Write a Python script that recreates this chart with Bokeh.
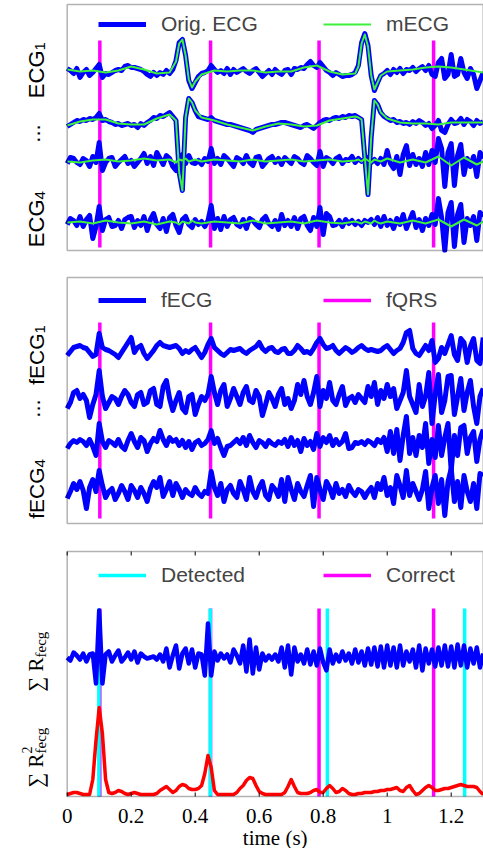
import numpy as np
from bokeh.plotting import figure
from bokeh.models import Range1d, Legend, LegendItem, Label, BoxAnnotation
from bokeh.core.properties import value
from bokeh.layouts import column
from bokeh.embed import file_html
from bokeh.resources import INLINE

# ---------------------------------------------------------------- data
# sample times (s), 10 ms step
t = np.round(np.arange(131) * 0.01, 2)

# panel 1: original abdominal ECG leads (blue), amplitudes in arbitrary units
ecg1 = [2, 0, -3, 2, -7, -2, 1, -5, -2, 2,
        6, -7, -3, -4, -2, 0, 1, 0, 4, 5,
        3, 3, 2, 1, -1, -4, -6, -2, -5, -2,
        -4, 0, -3, 1, 10, 28, 31, 15, -10, -18,
        -12, -6, -3, -2, 0, 5, 1, -2, 0, -3,
        2, -4, 1, -2, 0, 2, -1, -3, 0, 2,
        -2, -6, -3, 0, -4, 1, -2, -4, 0, 1,
        -4, 2, 1, 3, 2, 6, 9, 5, 3, 8,
        4, 0, -2, -5, -2, -4, -6, -5, -5, -4,
        -2, 5, 28, 37, 25, -5, -20, -12, -5, -3,
        0, -4, 1, -2, 2, -3, 1, 0, 3, -1,
        2, 4, 0, 5, -4, -6, 8, 12, -8, -4,
        16, -6, -4, 12, -2, -8, 2, -4, -18, -10,
        -2]
ecg2 = [-4, -2, 0, 2, 1, 3, 2, 4, 3, 5,
        9, 2, 3, 1, 0, -2, -1, -3, -2, -1,
        -3, -2, -5, -1, -3, 0, 2, 5, 4, 7,
        6, 8, 10, 6, 2, -50, -68, 5, 24, 20,
        12, 6, 5, 4, 3, 5, 2, 1, 0, -1,
        -2, -2, -3, -4, -5, -6, -7, -8, -10, -7,
        -6, -5, -4, -3, -2, -2, -1, 0, 0, -1,
        -2, -3, -4, -5, -3, -2, -4, -6, -3, 0,
        2, 3, 2, 4, 5, 4, 6, 5, 7, 6,
        7, 5, 3, -35, -72, -15, 22, 18, 10, 6,
        4, 2, 3, 0, 1, -1, 0, -2, 1, -1,
        2, 0, -3, -1, -6, -3, 2, -8, -10, -2,
        3, -1, 0, 4, -2, 3, 1, -3, 2, -1,
        1]
ecg3 = [-3, 3, 2, -2, -4, 2, 0, -6, 4, -2,
        18, -10, -2, 2, 3, -6, -2, 1, 4, -3,
        0, -6, -2, 2, 7, -3, 4, -5, 8, 2,
        -4, 5, 2, -6, -10, 4, 6, -3, 5, -2,
        -3, 0, -4, 2, -1, 12, -3, 2, -4, 5,
        2, -2, -6, 3, 1, -3, 5, -2, -5, 3,
        4, -6, -2, 2, 4, -2, 2, -4, 3, 0,
        -3, 4, 2, -2, -4, 5, 2, -2, -5, 9,
        -6, 3, 1, -3, 2, 4, -3, 1, 0, 4,
        -2, 2, -1, 1, 3, -2, 1, -3, 2, -4,
        10, -3, -8, 4, -14, 6, 15, -5, 6, -4,
        2, -6, 8, -4, 10, -2, 22, 12, -26, 8,
        17, -25, 5, 16, -14, 2, -6, 4, -16, 8,
        2]
ecg4 = [-2, 4, 2, -3, 6, -4, 3, 7, -16, -4,
        16, -8, 3, 5, -4, -3, 2, -6, 3, 5,
        6, -5, 2, -3, 6, -8, 3, 9, -2, -6,
        4, -9, 5, 8, -3, -10, 3, 6, -2, -5,
        3, -2, 1, -4, 2, 17, -6, 4, -7, 6,
        -4, 3, 5, -2, -4, 3, -6, 4, 2, -2,
        -5, 3, 6, -1, -4, 2, -7, 8, -3, 2,
        -4, 5, -6, 4, 6, -3, -8, 5, -4, 15,
        -12, 9, 6, -3, -2, 2, -4, 3, -1, 2,
        -2, 1, -3, 2, 0, 3, -2, 5, -4, 6,
        -3, 2, -6, 4, -2, 8, -6, 2, 10, -5,
        3, -8, 4, -3, 8, -2, 24, 5, -28, 10,
        20, -24, 8, 18, -20, 4, -3, 6, -18, 10,
        6]

# maternal ECG estimates (green), on their own time points
mecg_t = [0, 0.04, 0.08, 0.12, 0.16, 0.2, 0.24, 0.28, 0.32,
          0.34, 0.35, 0.36, 0.37, 0.38, 0.39, 0.40,
          0.42, 0.46, 0.5, 0.54, 0.58, 0.62, 0.66, 0.7, 0.74, 0.78, 0.82, 0.86, 0.9,
          0.91, 0.92, 0.93, 0.94, 0.95, 0.96, 0.97, 0.98,
          1.0, 1.04, 1.08, 1.12, 1.16, 1.2, 1.24, 1.28, 1.3]
mecg1 = [1, -1, 0, -2, 0, 4, 1, -3, -2,
         9, 27, 31, 15, -9, -17, -11,
         -4, 0, -1, 0, 0, -2, -1, -1, 3, 5, -1, -4, -3,
         4, 27, 36, 24, -5, -19, -12, -5,
         -1, 0, 1, 3, 4, 3, 1, -1, -2]
mecg2 = [-3, 1, 3, 3, -1, -2, -2, 4, 8,
         2, -50, -68, 5, 24, 20, 12,
         5, 2, -2, -5, -8, -4, -1, -2, -4, -3, 2, 4, 6,
         5, 3, -35, -72, -15, 22, 18, 10,
         4, 0, -1, -1, -2, 0, 0, 0, 0]
mecg3 = [-1, -2, 0, 1, -1, 0, 2, 0, 1,
         -2, 1, 0, 2, -1, 0, 1,
         -1, 1, 0, -1, 1, -1, 0, 1, -1, 0, 1, -1, 0,
         1, -1, 2, 0, -2, 1, 0, -1,
         2, -2, 1, -2, 4, -5, 3, -4, -1]
mecg4 = [0, 1, -1, 2, 0, -1, 1, -2, 1,
         0, -2, 1, 0, -1, 2, 0,
         -1, 1, 0, -1, 2, -1, 0, 1, -1, 2, 0, -1, 1,
         0, -1, 1, 0, -1, 2, 0, -1,
         1, -1, 2, -1, 3, -4, 3, -3, 1]

# panel 2: extracted fetal ECG
fecg1 = [-5, -1, 3, 4, 5, 3, 2, -2, -6, -4,
         17, 3, 1, 0, -2, -4, -7, -2, 3, 8,
         13, -2, 3, 5, -3, -8, -4, 0, 5, 8,
         5, 4, 3, 4, 5, 2, -3, 0, -2, 1,
         3, -2, -7, -2, 6, 12, 3, 0, -3, -5,
         -2, 1, 0, 1, 2, -1, -3, 0, 2, 4,
         8, 2, -1, 2, 3, -1, -2, 1, 2, -3,
         -3, 0, 5, 2, -2, -1, -3, 2, 8, 12,
         6, 2, 3, 5, 0, -3, 0, 3, 1, -2,
         0, 3, 5, 2, 0, 1, 0, -1, 0, 3,
         5, 1, -3, 0, 2, 8, 18, 20, 2, -3,
         -5, 0, 5, 0, 10, -12, -8, 3, -3, 6,
         15, -4, -10, 12, 8, -12, 4, 12, -10, -13,
         13]
fecg2 = [-8, -2, 8, 10, 2, 6, 0, -17, -4, 6,
         30, 4, -8, -2, 4, 2, -4, 4, 10, 6,
         -2, -6, 6, 8, -4, -2, 10, 12, -4, -6,
         14, 20, 2, -10, 0, 8, -8, -12, 4, 6,
         -14, -4, 4, 0, 6, 24, 8, -4, 10, 16,
         -6, 2, 12, 4, -4, 8, 14, 0, -2, 10,
         4, -15, -4, 8, 2, -6, 6, 12, -4, 2,
         -8, 0, 16, 6, 20, 4, -4, 8, 24, -6,
         10, 2, 18, 0, -4, 6, 14, -5, 2, 4,
         -2, 6, 2, -2, 14, 4, 18, -4, 10, 2,
         16, 4, 12, -8, 0, 8, 30, 4, -4, -12,
         16, -6, 4, 28, -23, 6, 26, -12, 0, 24,
         25, -14, 4, 22, -10, 8, 20, -6, -23, 4,
         12]
fecg3 = [-5, 0, 3, 1, 4, 2, -2, 4, -3, -12,
         20, 2, -4, 3, 1, -2, 4, -3, -6, 3,
         10, 2, -4, 6, 3, -8, 0, 5, 2, 13,
         4, -2, 6, 2, 4, -2, 3, -4, 2, -6,
         1, 3, -2, 0, 4, 13, 0, 5, -4, -12,
         -3, -2, 1, 4, 0, 6, -2, 8, 1, -4,
         3, 1, -3, 3, 0, -2, 2, 0, 4, -3,
         6, -2, 3, -8, 5, -2, 2, -6, 10, -3,
         6, 1, 8, -2, 4, -1, 2, 10, -5, -4,
         1, 0, 2, -1, 3, 1, -2, 4, 1, 6,
         -8, 12, -10, 14, -17, 8, 27, -10, 6, -12,
         8, -4, 20, -20, 4, -14, 18, -12, 6, 20,
         -27, 8, -12, 16, 18, -10, 6, 12, -18, 4,
         14]
fecg4 = [-5, 2, 10, 4, 12, 3, -15, 6, 14, 2,
         23, 8, -4, 2, 5, -6, 0, 8, 2, -6,
         8, 3, -4, 6, 0, -8, 5, 12, 6, 16,
         -3, 4, 12, -2, 10, 4, -4, 4, 0, -2,
         6, 0, -3, 2, 0, 22, 6, -2, 10, -8,
         4, 8, 0, -4, 12, 4, -6, 16, 2, -4,
         6, 12, -2, -6, 8, 4, -3, 14, -8, 16,
         4, -6, 10, 2, -3, 8, 18, -13, 16, 4,
         -6, 12, 6, -4, 10, 0, 4, -3, 8, 2,
         -2, 4, 2, -4, 2, 6, -4, 10, 4, 16,
         -2, 6, -10, 18, 8, -4, 23, -2, 10, 2,
         -6, 4, 22, -15, 6, 18, -10, 14, -22, 12,
         25, -8, 12, -14, 18, 2, -8, 10, -15, 20,
         18]

# panel 3: summed fetal signal and its squared (smoothed) version
sum_r = [0, -3, 5, 2, -2, 4, -4, 3, 4, -26,
         47, -26, 3, 6, -4, 2, 7, -4, 0, 5,
         -2, 6, -5, 4, 1, -1, 0, 1, -2, 3,
         -4, 9, -10, 2, 12, -11, 4, 9, -6, 8,
         -10, 4, 3, -18, 34, -18, 6, -3, 4, -1,
         3, -5, 8, 2, -6, 12, -14, 18, -16, 10,
         -12, 4, -3, 2, -2, 3, -4, 10, -10, 12,
         -17, 10, -4, 3, -6, 8, -7, 6, -8, 9,
         -5, -13, 8, -6, 3, -4, 6, -3, 4, -6,
         8, -5, 6, -8, 9, -7, 10, -9, 11, -10,
         12, -8, 10, -10, 12, -8, 6, -4, 8, -10,
         12, -13, 9, -6, 8, -9, 10, -8, 12, -9,
         11, -10, 13, -8, 12, -10, 9, -6, 10, -10,
         4]
sum_r2 = [1, 2, 3, 3, 2, 1, 1, 1, 16, 55,
          88, 62, 16, 3, 2, 3, 5, 4, 2, 1,
          2, 3, 2, 1, 1, 1, 1, 1, 2, 5,
          7, 9, 6, 3, 5, 9, 11, 10, 7, 6,
          6, 7, 10, 22, 40, 28, 5, 1, 1, 1,
          1, 1, 1, 3, 7, 10, 15, 18, 17, 10,
          4, 2, 1, 1, 1, 1, 1, 1, 3, 9,
          16, 9, 3, 2, 2, 2, 3, 5, 6, 3,
          3, 7, 10, 7, 3, 4, 7, 5, 2, 1,
          1, 2, 2, 3, 3, 3, 4, 4, 5, 5,
          6, 6, 7, 8, 5, 4, 8, 10, 5, 1,
          2, 5, 8, 10, 8, 5, 5, 6, 7, 7,
          8, 9, 10, 11, 10, 9, 9, 9, 8, 4,
          1]

# QRS annotations (s)
fqrs_t = [0.102, 0.448, 0.787, 1.145]
detected_t = [0.099, 0.447, 0.813, 1.242]
correct_t = [0.102, 0.448, 0.787, 1.145]

# bottom axis ticks
xticks = [0.0, 0.2, 0.4, 0.6, 0.8, 1.0, 1.2]
xtick_labels = ["0", "0.2", "0.4", "0.6", "0.8", "1", "1.2"]

# ---------------------------------------------------------------- style / layout
W = 483
PXU = 320.0              # pixels per second
X0 = 66.7                # pixel where t = 0 sits
XMIN, XMAX = -X0 / PXU, (W - X0) / PXU
PAD = 2                  # pixels of frame around each drawn box

BLUE, GREEN, MAGENTA, CYAN, RED = "#0000ff", "#3cf03c", "#ff00ff", "#00ffff", "#ff0000"
SANS, SERIF = "Liberation Sans", "Liberation Serif"


def make_fig(height, top, bottom, ymax, pad_bottom=PAD):
    p = figure(width=W, height=height, x_range=Range1d(XMIN, XMAX),
               y_range=Range1d(-pad_bottom, ymax + PAD),
               output_backend="svg", toolbar_location=None,
               x_axis_type=None, y_axis_type=None,
               min_border_left=0, min_border_right=0,
               min_border_top=top, min_border_bottom=bottom)
    p.outline_line_color = None
    p.background_fill_color = "white"
    p.border_fill_color = "white"
    p.add_layout(BoxAnnotation(left=0, right=1.3, bottom=0, top=ymax, fill_color=None,
                               line_color="black", line_width=1.5))
    return p


def add_legend(p, label, renderer, x_px, d_top, frame_h):
    leg = Legend(items=[LegendItem(label=label, renderers=[renderer])],
                 location=(x_px, frame_h - PAD - d_top - 12), orientation="horizontal",
                 padding=0, margin=0, spacing=0,
                 glyph_width=48, glyph_height=20, label_height=20, label_standoff=15,
                 label_text_font=SANS, label_text_font_size="21px",
                 border_line_alpha=0, background_fill_alpha=0)
    p.add_layout(leg)


def rot_text(p, text, y, font, size, align, dx=0):
    p.add_layout(Label(x=-21 / PXU, y=y, x_units="data", y_units="data", text=text,
                       angle=np.pi / 2, text_align=align, text_baseline="alphabetic",
                       text_font=font, text_font_size=f"{size}px", text_color="black",
                       x_offset=dx))


def vmarks(p, times, lo, hi, color):
    n = len(times)
    return p.segment(x0=times, y0=[lo] * n, x1=times, y1=[hi] * n,
                     line_color=color, line_width=3.5)


# ---------------- panel 1  (box 246 px tall)
p1 = make_fig(263, 2, 11, 246)
off1 = [180, 128, 90, 28]
mag1 = vmarks(p1, fqrs_t, 3, 210, MAGENTA)
blue1 = [p1.line(t, np.array(s) + o, line_color=BLUE, line_width=5, line_join="round")
         for s, o in zip([ecg1, ecg2, ecg3, ecg4], off1)]
green1 = [p1.line(mecg_t, np.array(s) + o, line_color=GREEN, line_width=2, line_join="round")
          for s, o in zip([mecg1, mecg2, mecg3, mecg4], off1)]
add_legend(p1, "Orig. ECG", blue1[0], 98, 20, 250)
add_legend(p1, "mECG", green1[0], 323, 20, 250)
rot_text(p1, "ECG", 200, SANS, 22, "right", dx=-10)
rot_text(p1, "1", 200, SANS, 15, "left", dx=-6)
rot_text(p1, "...", 117, SANS, 22, "center", dx=-14)
rot_text(p1, "ECG", 51, SANS, 22, "right", dx=-10)
rot_text(p1, "4", 51, SANS, 15, "left", dx=-6)

# ---------------- panel 2  (box 246 px tall)
p2 = make_fig(274, 12, 12, 246)
off2 = [173, 123, 80, 30]
mag2 = vmarks(p2, fqrs_t, 5, 201, MAGENTA)
blue2 = [p2.line(t, np.array(s) + o, line_color=BLUE, line_width=5, line_join="round")
         for s, o in zip([fecg1, fecg2, fecg3, fecg4], off2)]
add_legend(p2, "fECG", blue2[0], 98, 23, 250)
add_legend(p2, "fQRS", mag2, 323, 23, 250)
rot_text(p2, "fECG", 190, SANS, 21, "right", dx=-10)
rot_text(p2, "1", 190, SANS, 15, "left", dx=-6)
rot_text(p2, "...", 115, SANS, 22, "center", dx=-14)
rot_text(p2, "fECG", 56, SANS, 21, "right", dx=-10)
rot_text(p2, "4", 56, SANS, 15, "left", dx=-6)

# ---------------- panel 3  (box 245 px tall, frame runs down to the canvas bottom)
p3 = make_fig(311, 12, 0, 245, pad_bottom=52)
cor = vmarks(p3, correct_t, 0, 188, MAGENTA)
det = vmarks(p3, detected_t, 0, 188, CYAN)
p3.line(t, np.array(sum_r) + 139, line_color=BLUE, line_width=4.5, line_join="round")
p3.line(t, np.array(sum_r2) + 1, line_color=RED, line_width=3.5, line_join="round")
add_legend(p3, "Detected", det, 98, 24, 299)
add_legend(p3, "Correct", cor, 323, 24, 299)
rot_text(p3, "\u2211 R", 139, SERIF, 21, "right", dx=-10)
rot_text(p3, "fecg", 139, SERIF, 15, "left", dx=-5)
rot_text(p3, "\u2211 R", 43, SERIF, 21, "right", dx=-10)
rot_text(p3, "2", 43, SERIF, 14, "left", dx=-19)
rot_text(p3, "fecg", 43, SERIF, 15, "left", dx=-5)

# inward tick marks on the top and bottom edges of the box, with labels below
n_t = len(xticks)
p3.segment(x0=xticks, y0=[245] * n_t, x1=xticks, y1=[241] * n_t, line_color="black", line_width=1)
p3.segment(x0=xticks, y0=[0] * n_t, x1=xticks, y1=[4] * n_t, line_color="black", line_width=1)
p3.text(x=xticks, y=[-19] * n_t, text=xtick_labels, text_align="center", text_baseline="middle",
        text_font=value(SERIF), text_font_size="21px", text_color="black")
p3.add_layout(Label(x=0.65, y=-41, text="time (s)", text_align="center", text_baseline="middle",
                    text_font=SERIF, text_font_size="21px", text_color="black"))

layout = column(p1, p2, p3)
open("out.html", "w").write(file_html(layout, INLINE))
